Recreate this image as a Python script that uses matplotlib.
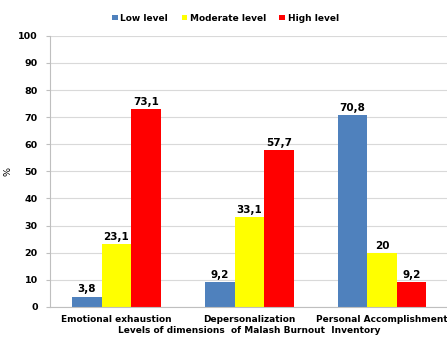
import matplotlib
matplotlib.use("Agg")
import matplotlib.pyplot as plt
import numpy as np

dimensions = ["Emotional exhaustion", "Depersonalization", "Personal Accomplishment"]
low = [3.8, 9.2, 70.8]
moderate = [23.1, 33.1, 20]
high = [73.1, 57.7, 9.2]
labels = ["Low level", "Moderate level", "High level"]
colors = ["#4F81BD", "#FFFF00", "#FF0000"]

plt.rcParams["font.family"] = "DejaVu Sans"
plt.rcParams["font.weight"] = "bold"

fig = plt.figure(figsize=(4.47, 3.38), dpi=100)
ax = fig.add_axes([0.112, 0.092, 0.8915, 0.802])

x = np.arange(len(dimensions))
w = 0.222
for i, (vals, lab, col) in enumerate(zip([low, moderate, high], labels, colors)):
    bars = ax.bar(x + (i - 1) * w, vals, w, color=col, label=lab, zorder=2)
    for b, v in zip(bars, vals):
        txt = ("%g" % v).replace(".", ",")
        ax.text(b.get_x() + b.get_width() / 2, v + 0.8, txt,
                ha="center", va="bottom", fontsize=7.5, fontweight="bold")

ax.set_xlim(-0.5, 2.5)
ax.set_ylim(0, 100)
ax.set_yticks(range(0, 101, 10))
ax.yaxis.grid(True, color="#D9D9D9", linewidth=0.8, zorder=0)
ax.set_axisbelow(True)
ax.set_xticks(x)
ax.set_xticklabels(dimensions, fontsize=6.5, fontweight="bold")
ax.tick_params(axis="y", labelsize=6.8, length=3, color="#BFBFBF", pad=6)
ax.tick_params(axis="x", length=0, pad=6)
ax.spines["right"].set_visible(False)
ax.spines["top"].set_visible(False)
for s in ["left", "bottom"]:
    ax.spines[s].set_color("#BFBFBF")

ax.set_ylabel("%", fontsize=6.8, fontweight="normal")
ax.yaxis.set_label_coords(-0.095, 0.5)
ax.set_xlabel("Levels of dimensions  of Malash Burnout  Inventory",
              fontsize=6.5, fontweight="bold", labelpad=1)

ax.legend(loc="center", bbox_to_anchor=(0.44, 1.065), ncol=3,
          frameon=False, fontsize=6.5, handlelength=0.6, handleheight=0.6,
          handletextpad=0.3, columnspacing=1.5)

fig.savefig("out.png", dpi=100)
